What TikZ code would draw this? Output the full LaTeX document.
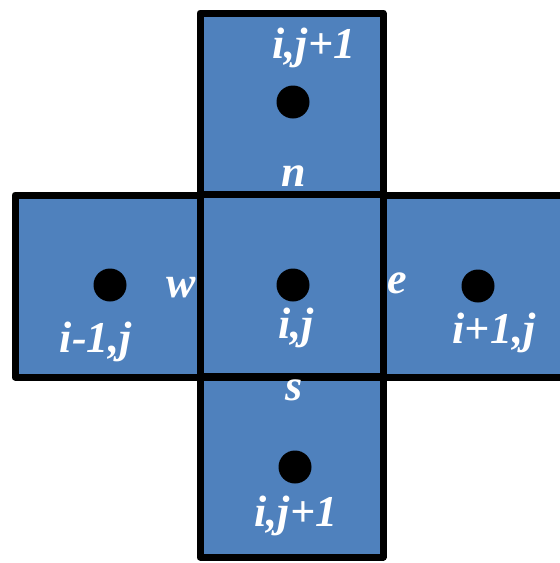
\documentclass[tikz,border=0pt]{standalone}
\usepackage{fontspec}
\setmainfont{Liberation Serif}
\definecolor{cellblue}{RGB}{79,129,189}
\begin{document}
\begin{tikzpicture}[x=1pt,y=-1pt,
  cell/.style={fill=cellblue,draw=black,line width=7pt,line join=round},
  dot/.style={circle,fill=black,inner sep=0pt,minimum size=33pt},
  lbl/.style={text=white,font=\fontsize{44}{44}\selectfont\bfseries\itshape,inner sep=0pt}]
\useasboundingbox (0,0) rectangle (560,563);
\begin{scope}
\clip (0,0) rectangle (560,563);
\fill[cellblue] (200,13) rectangle (383,557);
\fill[cellblue] (15,195) rectangle (575,377);
\draw[cell] (200,13) rectangle (383,194);
\draw[cell] (15,195) rectangle (200,377);
\draw[cell] (383,195) rectangle (580,377);
\draw[cell] (200,376) rectangle (383,557);
\draw[cell,fill=none] (200,194) rectangle (383,377);
\end{scope}
\node[dot] (dN) at (293,102) {};
\node[dot] (dW) at (110,285) {};
\node[dot] (dC) at (293,285) {};
\node[dot] (dE) at (478,286) {};
\node[dot] (dS) at (295,467) {};
\node[lbl] (tN) at (314,48) {i,j+1};
\node[lbl] (tn) at (294,176) {n};
\node[lbl] (tw) at (181,288) {w};
\node[lbl] (te) at (397,283) {e};
\node[lbl] (ts) at (294,390) {s};
\node[lbl] (tC) at (296,328) {i,j};
\node[lbl] (tW) at (96,342) {i-1,j};
\node[lbl] (tE) at (494,333) {i+1,j};
\node[lbl] (tS) at (296,516) {i,j+1};
\end{tikzpicture}
\end{document}
